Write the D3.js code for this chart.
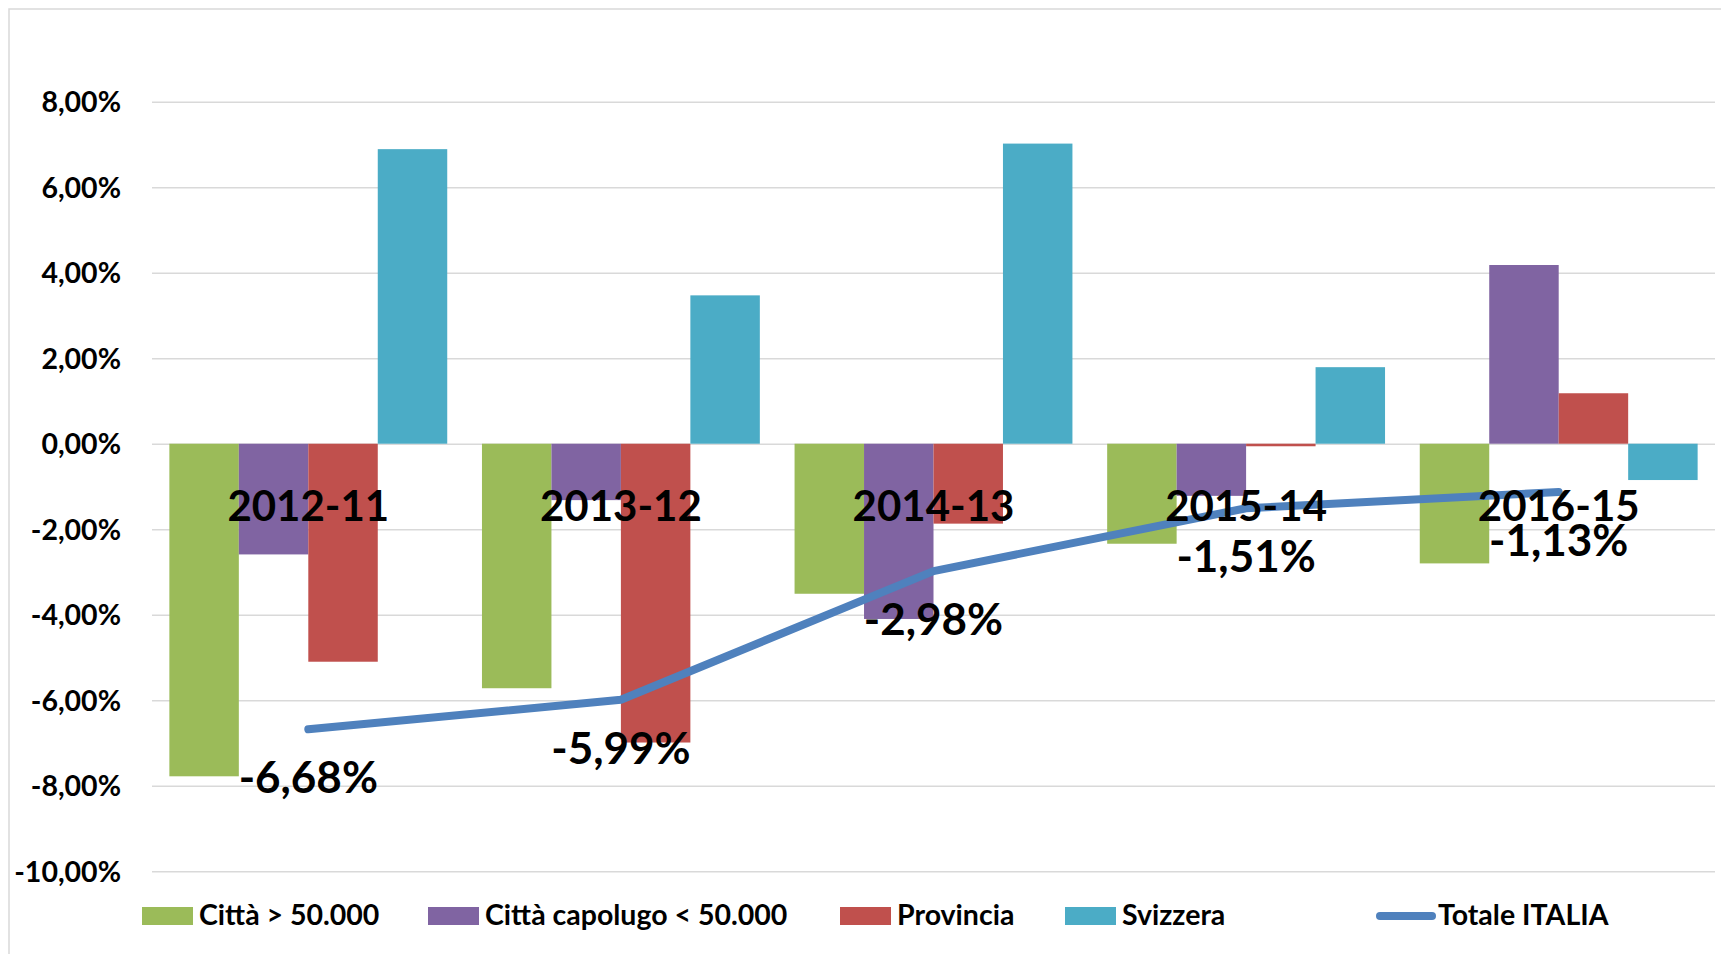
<!DOCTYPE html>
<html>
<head>
<meta charset="utf-8">
<script src="https://cdn.jsdelivr.net/npm/d3@7"></script>
<style>
  html, body { margin: 0; padding: 0; background: #fff; }
  svg text { font-family: Lato, 'Open Sans', sans-serif; font-weight: bold; fill: #000; }
</style>
</head>
<body>
<svg id="chart" width="1721" height="954"></svg>
<script>
var categories = ['2012-11', '2013-12', '2014-13', '2015-14', '2016-15'];
var seriesNames = ['Città > 50.000', 'Città capolugo < 50.000', 'Provincia', 'Svizzera'];
var lineName = 'Totale ITALIA';

// values in percent
var cittaGrandi = [-7.78, -5.72, -3.51, -2.34, -2.80];
var cittaCapoluogo = [-2.59, -1.32, -4.10, -1.22, 4.18];
var provincia = [-5.10, -6.99, -1.87, -0.06, 1.18];
var svizzera = [6.89, 3.47, 7.02, 1.79, -0.85];
var totaleItalia = [-6.68, -5.99, -2.98, -1.51, -1.13];

var yTicks = [-10, -8, -6, -4, -2, 0, 2, 4, 6, 8];

var COLORS = ['#9BBB59', '#8064A2', '#C0504D', '#4BACC6'];
var LINE_COLOR = '#4F81BD';
var GRID_COLOR = '#D9D9D9';

var PLOT_LEFT = 152;
var PLOT_RIGHT = 1715;
var PLOT_TOP = 101.7;
var PLOT_BOTTOM = 871.2;

var LEGEND_X = [142, 428, 840, 1065, 1376];

var seriesValues = [cittaGrandi, cittaCapoluogo, provincia, svizzera];

var locale = d3.formatLocale({
  decimal: ',',
  thousands: '.',
  grouping: [3],
  currency: ['', '€'],
  minus: '-'
});
var pct = function (v) { return locale.format('.2f')(v) + '%'; };

var svg = d3.select('#chart');

// chart area border
svg.append('rect')
  .attr('x', 9)
  .attr('y', 9)
  .attr('width', 1740)
  .attr('height', 980)
  .attr('fill', 'none')
  .attr('stroke', GRID_COLOR)
  .attr('stroke-width', 1.5);

var x0 = d3.scaleBand()
  .domain(categories)
  .range([PLOT_LEFT, PLOT_RIGHT])
  .padding(0);

var x1 = d3.scaleBand()
  .domain(seriesNames)
  .range([0, x0.bandwidth()])
  .paddingInner(0)
  .paddingOuter(0.25);

var y = d3.scaleLinear()
  .domain([-10, 8])
  .range([PLOT_BOTTOM, PLOT_TOP]);

var yAxis = svg.append('g')
  .attr('transform', 'translate(' + PLOT_LEFT + ',0)')
  .call(d3.axisLeft(y)
    .tickValues(yTicks)
    .tickSize(-(PLOT_RIGHT - PLOT_LEFT))
    .tickPadding(31)
    .tickFormat(pct));

yAxis.select('.domain').remove();
yAxis.selectAll('.tick line')
  .attr('stroke', GRID_COLOR)
  .attr('stroke-width', 1.5);
yAxis.selectAll('.tick text')
  .attr('font-size', 28.5)
  .attr('font-family', null)
  .attr('dy', '0.36em');

// grouped bars
var groups = svg.selectAll('.group')
  .data(categories)
  .enter().append('g')
  .attr('class', 'group')
  .attr('transform', function (d) { return 'translate(' + x0(d) + ',0)'; });

groups.selectAll('rect')
  .data(function (d, i) {
    return seriesNames.map(function (s, j) {
      return { series: s, index: j, value: seriesValues[j][i] };
    });
  })
  .enter().append('rect')
  .attr('x', function (d) { return x1(d.series); })
  .attr('width', x1.bandwidth())
  .attr('y', function (d) { return y(Math.max(0, d.value)); })
  .attr('height', function (d) { return Math.abs(y(d.value) - y(0)); })
  .attr('fill', function (d) { return COLORS[d.index]; });

// totale line
var lineX = function (d, i) { return x0(categories[i]) + x0.bandwidth() / 2; };

svg.append('path')
  .datum(totaleItalia)
  .attr('fill', 'none')
  .attr('stroke', LINE_COLOR)
  .attr('stroke-width', 8)
  .attr('stroke-linecap', 'round')
  .attr('stroke-linejoin', 'round')
  .attr('d', d3.line().x(lineX).y(function (d) { return y(d); }));

// category labels sit inside the plot, just under the zero line
svg.selectAll('.cat-label')
  .data(categories)
  .enter().append('text')
  .attr('class', 'cat-label')
  .attr('x', function (d) { return x0(d) + x0.bandwidth() / 2; })
  .attr('y', 521)
  .attr('text-anchor', 'middle')
  .attr('font-size', 42)
  .text(function (d) { return d; });

svg.selectAll('.line-label')
  .data(totaleItalia)
  .enter().append('text')
  .attr('class', 'line-label')
  .attr('x', lineX)
  .attr('y', function (d) { return y(d) + 64; })
  .attr('text-anchor', 'middle')
  .attr('font-size', 44)
  .text(pct);

// legend
var LEGEND_Y = 916;
var legend = svg.append('g').attr('class', 'legend');

seriesNames.forEach(function (name, i) {
  legend.append('rect')
    .attr('x', LEGEND_X[i])
    .attr('y', LEGEND_Y - 9)
    .attr('width', 51)
    .attr('height', 18)
    .attr('fill', COLORS[i]);
  legend.append('text')
    .attr('x', LEGEND_X[i] + 57)
    .attr('y', LEGEND_Y + 9)
    .attr('font-size', 28.5)
    .text(name);
});

legend.append('line')
  .attr('x1', LEGEND_X[4] + 4)
  .attr('x2', LEGEND_X[4] + 56)
  .attr('y1', LEGEND_Y)
  .attr('y2', LEGEND_Y)
  .attr('stroke', LINE_COLOR)
  .attr('stroke-width', 8)
  .attr('stroke-linecap', 'round');

legend.append('text')
  .attr('x', LEGEND_X[4] + 62)
  .attr('y', LEGEND_Y + 9)
  .attr('font-size', 28.5)
  .text(lineName);
</script>
</body>
</html>
